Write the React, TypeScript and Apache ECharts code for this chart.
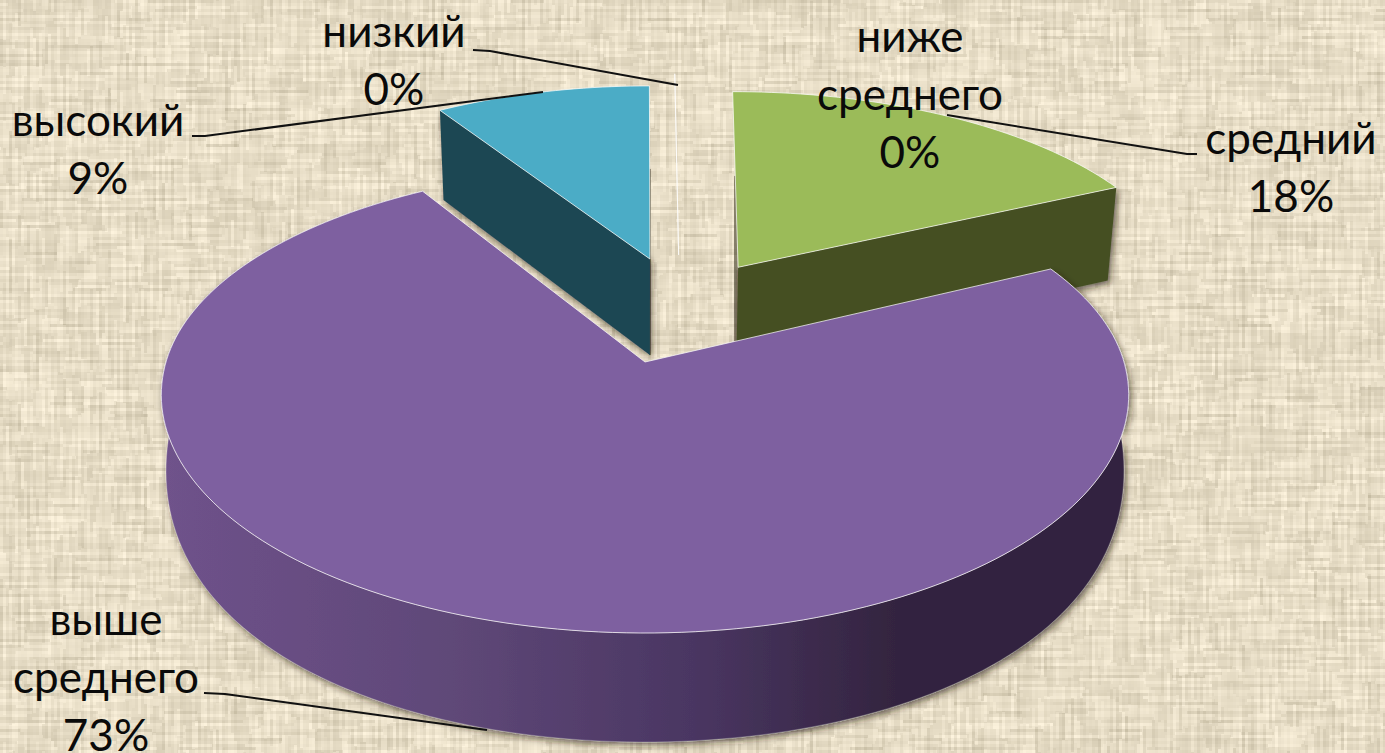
import React, { useEffect, useRef } from "react";
import * as echarts from "echarts";

const categories = ["низкий", "ниже\nсреднего", "средний", "выше\nсреднего", "высокий"];
const seriesValues = [0, 0, 18, 73, 9];

const topColors = ["#ffffff", "#ffffff", "#9bbb59", "#7e60a0", "#4bacc6"];
const wallColors = ["#ffffff", "#ffffff", "#454f24", "#33243f", "#1f4653"];
// world-space explosion of each slice (units of the pie radius) and per-slice fit factors
const explodeX = [0.075, 0.075, 0.206, 0, 0.011];
const explodeY = [0.49, 0.49, 0.43, 0, 0.47];
const scaleX = [1, 1, 0.98, 1, 0.96];
const scaleY = [1, 1, 0.95, 1, 0.945];
const skewX = [0, 0, 0.012, 0, 0];
const backSquash = [0, 0, 0, 0.05, 0];
const radialFace = [-1, -1, 1, -1, 0]; // visible cut face: 0 = start edge, 1 = end edge
const labelX = [394, 910, 1291, 106, 98];
const labelY = [59, 92.5, 166, 676, 147.5];
const leaderLines = [
  [[473, 50], [490, 51], [678, 85]],
  [],
  [[1197, 154], [1187, 154], [947, 115]],
  [[204, 693], [225, 694], [487, 730]],
  [[192, 136], [205, 136], [543, 92]],
];

const OX = 645, OY = 362, RX = 479, KY = 233.4, D = 7.21, DEPTH = 102, DC = 0.15;

function project(X: number, Y: number, low: boolean, big: boolean): number[] {
  if (big) {
    // the large slice: wall height grows quickly toward the viewer
    const p = D / (D + Y + (low ? 0.07 : 0));
    const pTop = D / (D + Y);
    const h = low ? 109 - 44 * Math.pow(Math.max(0, 1 + Y), 2) : 0;
    return [OX + RX * X * p, OY - KY * Y * pTop + Math.max(0, h)];
  }
  const p = D / (D + Y + (low ? DC : 0));
  return [OX + RX * X * p, OY - KY * Y * p + (low ? DEPTH * p : 0)];
}

function makeTexture(): string {
  const W = 1385, H = 753;
  const c = document.createElement("canvas");
  c.width = W; c.height = H;
  const ctx = c.getContext("2d")!;
  const img = ctx.createImageData(W, H);
  const hash = (n: number) => { const s = Math.sin(n * 127.1 + 11.7) * 43758.5453; return s - Math.floor(s); };
  const hash2 = (a: number, b: number) => hash(a * 13.37 + b * 71.93);
  for (let y = 0; y < H; y++) {
    for (let x = 0; x < W; x++) {
      const cx = Math.floor(x / 3), cy = Math.floor(y / 3);
      const sv = Math.floor((y + hash(cx) * 60) / 27);
      const sh = Math.floor((x + hash(cy + 300) * 60) / 33);
      const a = hash2(cx, sv) - 0.5;
      const b = hash2(cy + 1000, sh + 400) - 0.5;
      const ga = cx % 3 === 0 ? -7 * hash2(cx, sv + 50) : 2;
      const gb = cy % 3 === 0 ? -7 * hash2(cy + 500, sh + 90) : 2;
      const v = a * 20 + b * 20 + ga + gb;
      const i = (y * W + x) * 4;
      img.data[i] = 230 + v; img.data[i + 1] = 220 + v; img.data[i + 2] = 197 + v * 1.05; img.data[i + 3] = 255;
    }
  }
  ctx.putImageData(img, 0, 0);
  const out = document.createElement("canvas");
  out.width = W; out.height = H;
  const o = out.getContext("2d")!;
  o.filter = "blur(0.7px)";
  o.drawImage(c, 0, 0);
  return out.toDataURL("image/png");
}

export default function App() {
  const ref = useRef<HTMLDivElement>(null);
  useEffect(() => {
    document.body.style.margin = "0";
    const el = ref.current!;
    el.style.backgroundImage = `url(${makeTexture()})`;
    const chart = echarts.init(el, undefined, { renderer: "svg" });
    const total = seriesValues.reduce((a, b) => a + b, 0);
    const FONT = "400 44px Lato, 'Open Sans', sans-serif";
    const renderItem = (_p: any, api: any) => {
      const idx = _p.dataIndex;
      const value = api.value(0) as number;
      const big = idx === 3;
      let before = 0;
      for (let i = 0; i < idx; i++) before += seriesValues[i];
      const a0 = (before / total) * Math.PI * 2;
      const a1 = ((before + value) / total) * Math.PI * 2;
      const ex = explodeX[idx], ey = explodeY[idx];
      const N = Math.max(2, Math.ceil((a1 - a0) * 40));
      const arc = (low: boolean) => {
        const pts: number[][] = [];
        for (let i = 0; i <= N; i++) {
          const t = a0 + ((a1 - a0) * i) / N;
          const cs = Math.cos(t);
          const r = 1 - backSquash[idx] * Math.pow(Math.max(0, cs), 2);
          pts.push(project(
            ex + r * (scaleX[idx] * Math.sin(t) + skewX[idx] * cs),
            ey + r * scaleY[idx] * cs,
            low, big));
        }
        return pts;
      };
      const topArc = arc(false), lowArc = arc(true);
      const apexT = project(ex, ey, false, big), apexL = project(ex, ey, true, big);
      const children: any[] = [];
      const base = big ? 30 : 10;
      const shadow = { shadowBlur: 7, shadowColor: "rgba(40,30,10,0.65)", shadowOffsetX: 2, shadowOffsetY: 3 };
      if (value > 0) {
        if (big) {
          children.push({
            type: "polygon", z2: base,
            shape: { points: [...topArc, ...lowArc.slice().reverse()] },
            style: {
              fill: new echarts.graphic.LinearGradient(0, 0, 1, 0, [
                { offset: 0, color: "#6f528b" },
                { offset: 0.3, color: "#5f4878" },
                { offset: 0.55, color: "#4a3662" },
                { offset: 0.76, color: "#33243f" },
                { offset: 1, color: "#33243f" },
              ]),
              stroke: "rgba(255,255,255,0.35)", lineWidth: 0.6, ...shadow,
            },
          });
        }
        if (radialFace[idx] >= 0) {
          const k = radialFace[idx] === 1 ? N : 0;
          const h = radialFace[idx] === 1 ? 0 : N; // the hidden cut edge only casts a soft shadow
          children.push({
            type: "line", z2: base - 1,
            shape: {
              x1: topArc[h][0] + (apexT[0] - topArc[h][0]) * 0.48,
              y1: topArc[h][1] + (apexT[1] - topArc[h][1]) * 0.48,
              x2: apexL[0], y2: apexL[1],
            },
            style: { stroke: "rgba(60,50,30,0.5)", lineWidth: 4, shadowBlur: 5, shadowColor: "rgba(40,30,10,0.6)" },
          });
          children.push({
            type: "polygon", z2: base + 1,
            shape: { points: [apexT, topArc[k], lowArc[k], apexL] },
            style: { fill: wallColors[idx], ...shadow },
          });
        }
        children.push({
          type: "polygon", z2: base + 2,
          shape: { points: [apexT, ...topArc] },
          style: { fill: topColors[idx], stroke: "rgba(255,255,255,0.7)", lineWidth: 1, lineJoin: "round" },
        });
      } else {
        children.push({
          type: "line", z2: 5,
          shape: { x1: apexT[0], y1: apexT[1], x2: topArc[0][0], y2: topArc[0][1] },
          style: { stroke: "rgba(255,255,255,0.7)", lineWidth: 1 },
        });
      }
      if (leaderLines[idx].length) {
        children.push({
          type: "polyline", z2: 50,
          shape: { points: leaderLines[idx] },
          style: { stroke: "#111", lineWidth: 2, fill: "none" },
        });
      }
      children.push({
        type: "text", z2: 60,
        style: {
          text: `${categories[idx]}\n${value}%`,
          x: labelX[idx], y: labelY[idx],
          align: "center", verticalAlign: "middle",
          font: FONT, lineHeight: 58, fill: "#0a0a0a",
        },
      });
      return { type: "group", children };
    };
    chart.setOption({
      animation: false,
      series: [{
        type: "custom",
        coordinateSystem: "none",
        renderItem,
        clip: false,
        silent: true,
        data: seriesValues.map((v, i) => ({ name: categories[i], value: [v] })),
      }],
    });
    return () => chart.dispose();
  }, []);
  return <div ref={ref} style={{ width: 1385, height: 753 }} />;
}
